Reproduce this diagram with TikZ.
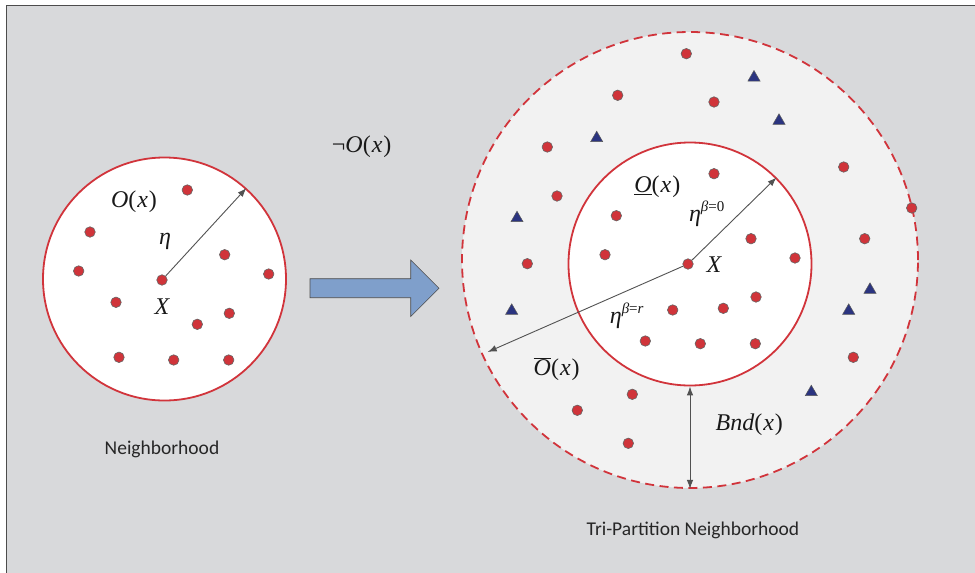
\documentclass[tikz,border=0pt]{standalone}
\usepackage{fontspec}
\newfontfamily\carlito{Carlito}
\newfontfamily\tms{Liberation Serif}
\usetikzlibrary{arrows.meta,shapes.geometric}
\definecolor{bg}{HTML}{D8D9DB}
\definecolor{ring}{HTML}{F2F2F2}
\definecolor{cred}{HTML}{D1343B}
\definecolor{dotred}{HTML}{D0343A}
\definecolor{navy}{HTML}{2B3480}
\definecolor{arrowblue}{HTML}{7F9FCB}
\newcommand\supsc[1]{\raisebox{9.5pt}{\fontsize{15}{15}\selectfont #1}}
\begin{document}
\begin{tikzpicture}[x=1pt,y=-1pt,
  dot/.style={circle,fill=dotred,draw=gray!80!black,line width=0.6pt,inner sep=0pt,minimum size=10.5pt},
  tri/.style={regular polygon,regular polygon sides=3,fill=navy,draw=gray!70!black,line width=0.5pt,inner sep=0pt,minimum size=14pt},
  ptr/.style={draw=black!68,line width=0.9pt,-{Latex[length=9pt,width=6.5pt]}},
  dptr/.style={draw=black!68,line width=0.9pt,{Latex[length=9pt,width=6.5pt]}-{Latex[length=9pt,width=6.5pt]}},
  zone/.style={circle,draw=cred,line width=1.8pt,inner sep=0pt},
  lbl/.style={font=\tms\fontsize{24}{28}\selectfont,inner sep=0pt,text=black!90},
  captxt/.style={font=\carlito\fontsize{19.5}{23}\selectfont,inner sep=0pt,text=black!85}]
\useasboundingbox (0,0) rectangle (975,573);
\fill[white] (0,0) rectangle (975,573);
\fill[bg] (6.5,5.5) rectangle (975,573);
\draw[gray!60!black,line width=1.5pt] (6.5,573) -- (6.5,5.5) -- (975,5.5);

% left neighborhood
\node[zone,fill=white,minimum size=243pt] (L) at (164.5,279) {};
\foreach [count=\i] \p in {(187.3,190),(90,232),(78.7,271),(116,302.3),(224.7,254.7),(268.7,274),(229.3,313.3),(197.3,324.3),(119,357.3),(173.7,360),(228.7,360)}
  \node[dot] (l\i) at \p {};
\node[dot] (lc) at (162,280) {};
\draw[ptr] (lc) -- (L.48);
\node[lbl] (lO) at (134,201.7) {\textit{O}(\kern1pt\textit{x}\kern1pt)};
\node[lbl] (leta) at (165,241) {\textit{η}};
\node[lbl] (lX) at (162.3,307) {\textit{X}};
\node[captxt] (lcap) at (162,449) {Neighborhood};

% big arrow
\draw[fill=arrowblue,draw=gray!60!black,line width=0.6pt] (310,278.7) -- (410.7,278.7) -- (410.7,260) -- (439,288.3) -- (410.7,316.5) -- (410.7,297.7) -- (310,297.7) -- cycle;
\node[lbl] (neg) at (361.7,146.7) {¬\textit{O}(\kern1pt\textit{x}\kern1pt)};

% tri-partition neighborhood
\node[zone,fill=ring,dash pattern=on 9pt off 5.5pt,minimum size=456pt] (O) at (690,260) {};
\node[zone,fill=white,minimum size=243pt] (I) at (690,264) {};
\foreach [count=\i] \p in {(686.3,53.7),(617.7,95.3),(714,102),(547.3,147),(557,196),(843.7,167),(911.7,208),(864.7,238.7),(527.3,263.7),(853.3,357.3),(632.3,394.3),(577.3,410.3),(628.3,443.3)}
  \node[dot] (ro\i) at \p {};
\foreach [count=\i] \p in {(714,173.7),(616.3,215.7),(605,254.7),(751,238.7),(795,258),(756,297),(672.7,310),(723.3,308.3),(645.3,341),(700.3,343.7),(755.3,343.7)}
  \node[dot] (ri\i) at \p {};
\foreach [count=\i] \p in {(754,77.5),(779,120.8),(596.7,138.2),(517,218.2),(511.7,310.8),(870,289.8),(848.7,310.8),(811.3,392.2)}
  \node[tri] (t\i) at \p {};
\node[dot] (rc) at (688,264) {};
\coordinate (ob) at (487.7,352);
\draw[ptr] (rc) -- (I.45);
\draw[ptr] (rc) -- (ob);
\draw[dptr] (I.south) -- (O.south);
\node[lbl] (rO) at (657.3,186.7) {\underline{\textit{O}}(\kern1pt\textit{x}\kern1pt)};
\node[lbl] (reta0) at (706.7,214) {\textit{η}\supsc{\textit{β}=0}};
\node[lbl] (rX) at (714.3,264.3) {\textit{X}};
\node[lbl] (retar) at (626.7,316) {\textit{η}\supsc{\textit{β}=\textit{r}}};
\node[lbl] (rObar) at (556.7,369.3) {$\overline{\mbox{\textit{O}}}$(\kern1pt\textit{x}\kern1pt)};
\node[lbl] (bnd) at (749.3,425) {\textit{Bnd}(\kern1pt\textit{x}\kern1pt)};
\node[captxt] (rcap) at (693,530) {Tri-Partition Neighborhood};
\end{tikzpicture}
\end{document}
